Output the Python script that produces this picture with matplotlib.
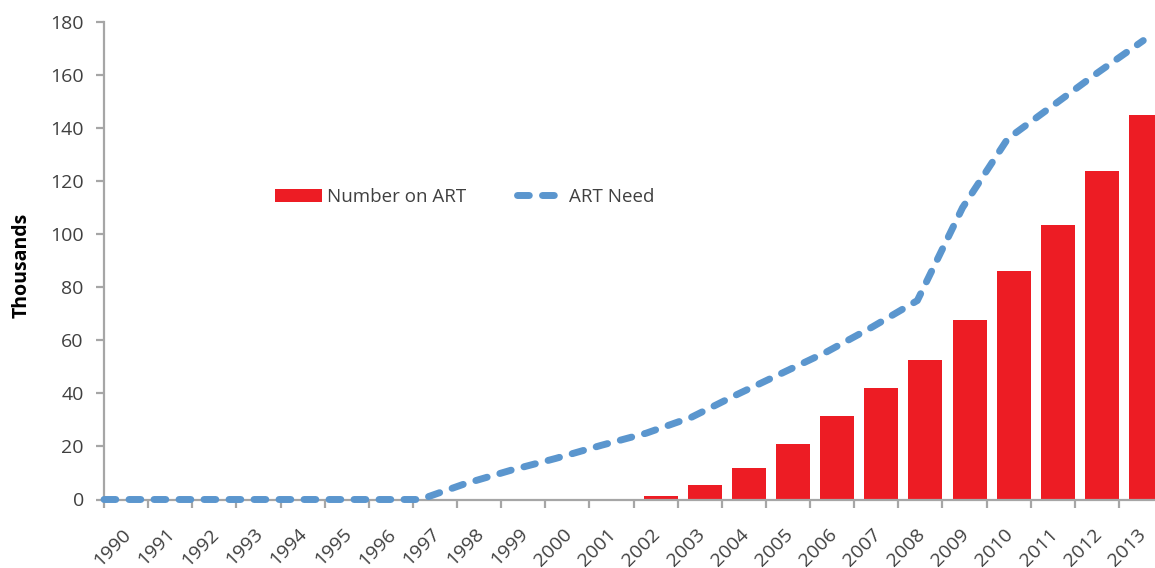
import numpy as np
import matplotlib
matplotlib.use("Agg")
from matplotlib import pyplot as plt
from matplotlib import transforms

plt.rcParams['font.family'] = ['Open Sans', 'DejaVu Sans']

years = [str(y) for y in range(1990, 2014)]

# thousands
on_art = [0, 0, 0, 0, 0, 0, 0, 0, 0, -0.4, -0.4, 0, 1.5, 5.5, 11.8, 20.8,
          31.4, 41.9, 52.5, 67.6, 86.3, 103.4, 123.8, 144.9]
art_need = [0, 0, 0, 0, 0, 0, 0, 0, 6, 11, 15.5, 20.4, 25, 31, 39.5, 47.6,
            55.7, 65, 75, 110, 136, 148.5, 161, 173]

yticks = np.arange(0, 181, 20)

red = "#ED1C24"
blue = "#5B96CE"
grey = "#A6A6A6"
txt = "#404040"

fig = plt.figure(figsize=(11.55, 5.68), dpi=100)
ax = fig.add_axes([104 / 1155, 1 - 499.5 / 568, 1 - 104 / 1155, (499.5 - 22) / 568])

n = len(years)
idx = np.arange(n)

# bars sit right-aligned in each category slot
bars = ax.bar(idx + 0.615, on_art, width=0.77, color=red, label="Number on ART",
              zorder=2)
for b in bars:
    b.set_clip_on(False)

# line runs on its own, slightly wider spacing
line_x = idx * (23.55 / 23)
ln, = ax.plot(line_x, art_need, color=blue, lw=5, dashes=(1.7, 1.9),
              dash_capstyle="round", solid_capstyle="round", label="ART Need",
              zorder=3, clip_on=False)

ax.set_xlim(0, 1051 / 44.13)
ax.set_ylim(0, 180)

for s in ["top", "right"]:
    ax.spines[s].set_visible(False)
for s in ["left", "bottom"]:
    ax.spines[s].set_color(grey)
    ax.spines[s].set_linewidth(1.6)

ax.set_yticks(yticks)
ax.set_yticklabels([str(v) for v in yticks])
ax.tick_params(axis="y", direction="out", length=5.5, width=1.6, color=grey,
               labelsize=14, labelcolor=txt, pad=9)

ax.set_xticks(np.arange(0, 24))
ax.set_xticklabels([""] * 24)
ax.tick_params(axis="x", which="major", direction="out", length=5.5, width=1.6,
               color=grey)
ax.set_xticks(idx + 0.5, minor=True)
ax.set_xticklabels(years, minor=True, rotation=45, ha="right",
                   rotation_mode="anchor", va="center")
ax.tick_params(axis="x", which="minor", length=0, labelsize=14,
               labelcolor=txt, pad=23)
off = transforms.ScaledTranslation(2 / 100, 0, fig.dpi_scale_trans)
for lab in ax.get_xticklabels(minor=True):
    lab.set_transform(lab.get_transform() + off)

fig.text(22 / 1155, 1 - 265 / 568, "Thousands", rotation=90, ha="center",
         va="center", fontsize=14, fontweight="bold", color="black")

leg = fig.legend(handles=[bars, ln], loc="center left",
                 bbox_to_anchor=(275 / 1155, 1 - 197 / 568),
                 ncol=2, frameon=False, fontsize=13.5, handlelength=2.5,
                 handletextpad=0.27, columnspacing=2.7, borderpad=0,
                 borderaxespad=0)
for t in leg.get_texts():
    t.set_color(txt)

fig.savefig("out.png", dpi=100)
